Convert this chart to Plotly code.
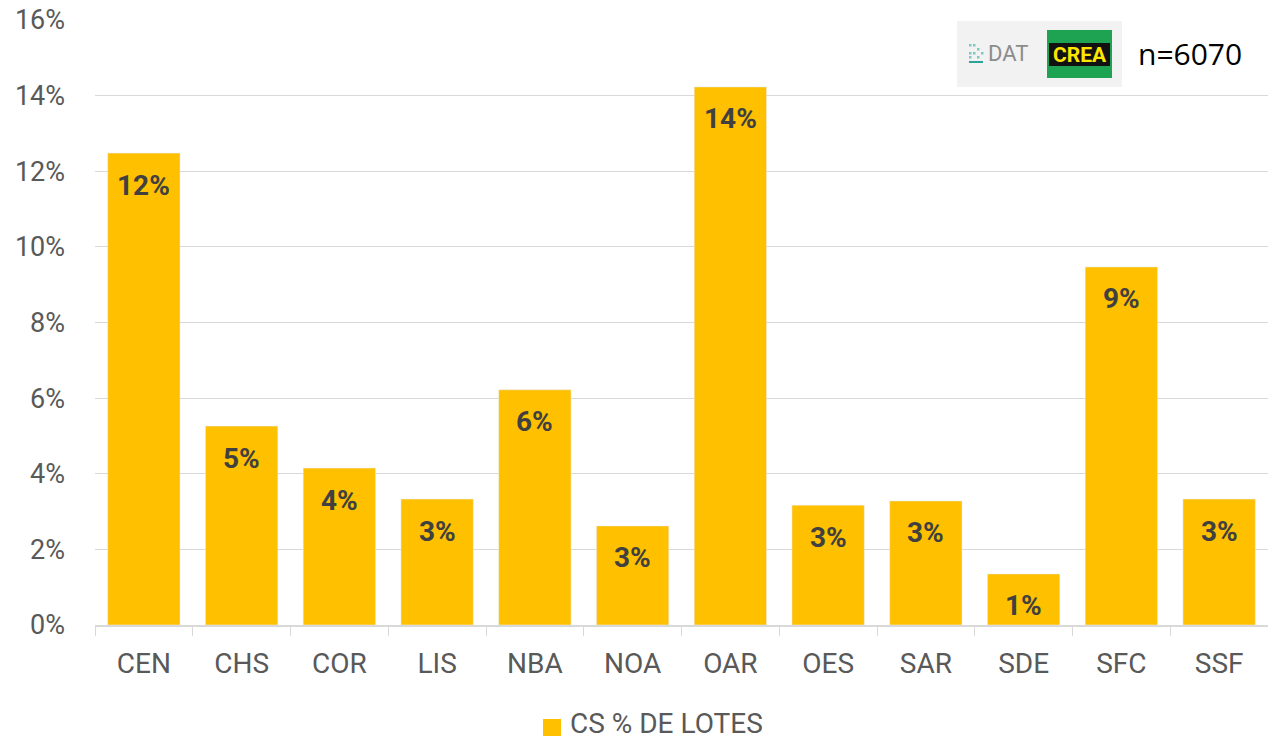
import plotly.graph_objects as go

regions = ['CEN', 'CHS', 'COR', 'LIS', 'NBA', 'NOA', 'OAR', 'OES', 'SAR', 'SDE', 'SFC', 'SSF']
cs_pct = [0.1248, 0.0526, 0.0415, 0.0333, 0.0622, 0.0262, 0.1423, 0.0317, 0.0328, 0.0135, 0.0947, 0.0333]
series_name = 'CS % DE LOTES'
n_label = 'n=6070'

# the page body adds an 8px margin, so work in page pixels and shift
OFF = 8
W, H = 1276 - OFF, 741 - OFF
L, R, T, B = 95 - OFF, 1268 - OFF, 20 - OFF, 625 - OFF
BAR_COLOR = '#FFC000'


def px_x(x):
    return (x - OFF - L) / (R - L)


def px_y(y):
    return (B - (y - OFF)) / (B - T)


def box(x0, x1, y0, y1, color):
    return dict(type='rect', xref='paper', yref='paper', x0=px_x(x0), x1=px_x(x1),
                y0=px_y(y1), y1=px_y(y0), fillcolor=color, line_width=0, layer='above')


fig = go.Figure()
fig.add_trace(go.Bar(
    x=regions, y=cs_pct, name=series_name,
    marker_color=BAR_COLOR, showlegend=False,
))

# value labels just under the top of each bar
annotations = [
    dict(x=r, y=v, xref='x', yref='y', text=f'<b>{v:.0%}</b>', showarrow=False,
         yshift=-32, font=dict(family='Roboto', size=28, color='#404040'))
    for r, v in zip(regions, cs_pct)
]

shapes = [
    box(957, 1122, 21, 87, '#F2F2F2'),      # grey logo background
    box(1047, 1112, 30, 78, '#1DA352'),     # CREA green badge
    box(1049, 1110, 43, 66, '#111111'),     # black band
    box(969, 983, 61, 63, '#2AA39A'),       # DAT icon base
    box(543, 561, 719, 736, BAR_COLOR),     # legend square
]
for dx, dy in [(969, 44), (973, 44), (977, 48), (969, 52), (973, 52), (981, 52), (977, 56), (969, 56)]:
    shapes.append(box(dx, dx + 2.5, dy, dy + 2.5, '#7FC8C2'))

annotations += [
    dict(text='DAT', xref='paper', yref='paper', x=px_x(1008), y=px_y(54), showarrow=False,
         font=dict(family='Roboto', size=22, color='#8C8C8C'), xanchor='center', yanchor='middle'),
    dict(text='<b>CREA</b>', xref='paper', yref='paper', x=px_x(1079.5), y=px_y(54.5), showarrow=False,
         font=dict(family='Roboto', size=21, color='#FFE600'), xanchor='center', yanchor='middle'),
    dict(text=n_label, xref='paper', yref='paper', x=px_x(1190), y=px_y(53), showarrow=False,
         font=dict(family='Open Sans', size=30, color='#000000'), xanchor='center', yanchor='middle'),
    # legend text
    dict(text=series_name, xref='paper', yref='paper', x=px_x(568), y=px_y(723), showarrow=False,
         font=dict(family='Roboto', size=28, color='#595959'), xanchor='left', yanchor='middle'),
]

fig.update_layout(
    width=W, height=H,
    margin=dict(l=L, r=W - R, t=T, b=H - B),
    paper_bgcolor='white', plot_bgcolor='white',
    bargap=0.26,
    showlegend=False,
    font=dict(family='Roboto', color='#595959'),
    shapes=shapes, annotations=annotations,
    xaxis=dict(showline=True, linecolor='#D9D9D9', linewidth=2, automargin=False,
               ticks='outside', tickson='boundaries', ticklen=9, tickcolor='#D9D9D9',
               tickfont=dict(family='Roboto', size=28, color='#595959'),
               ticklabelstandoff=12),
    yaxis=dict(range=[0, 0.16], dtick=0.02, tickformat='.0%', automargin=False,
               showgrid=True, gridcolor='#D9D9D9', gridwidth=1, zeroline=False,
               tickfont=dict(family='Roboto', size=27, color='#595959'),
               ticklabelstandoff=29, ticklabeloverflow='allow'),
)

fig.write_html('out.html')
